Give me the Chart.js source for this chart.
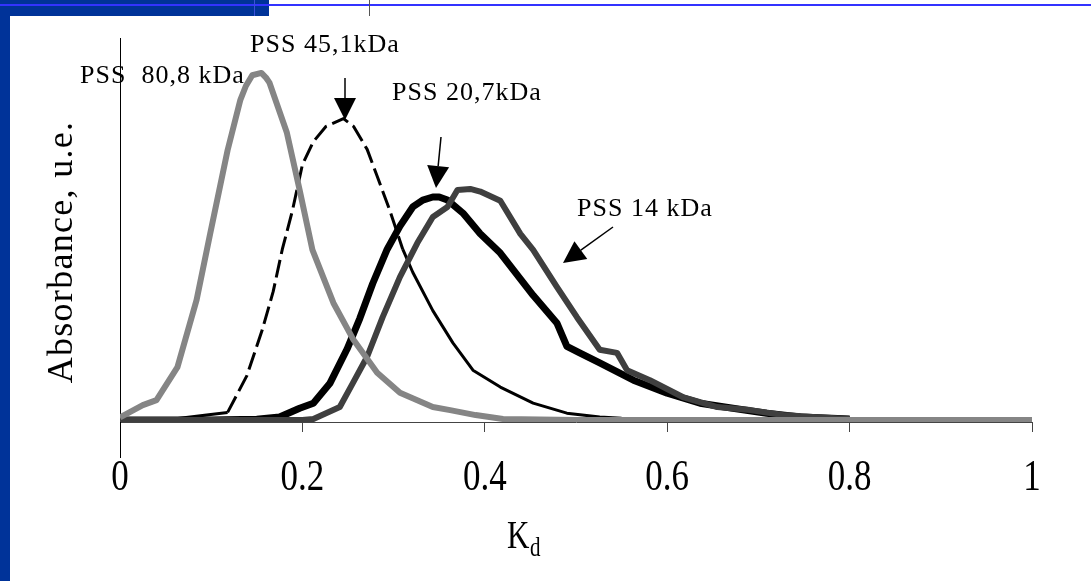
<!DOCTYPE html>
<html lang="en">
<head>
<meta charset="UTF-8">
<title>Absorbance vs Kd</title>
<script src="https://cdn.jsdelivr.net/npm/chart.js"></script>
<style>
  html, body { margin: 0; padding: 0; background: #fff; }
  #wrap { position: relative; width: 1091px; height: 581px; overflow: hidden; }
  #chart { position: absolute; left: 0; top: 0; }
  .frame { position: absolute; }
  #barLeft { left: 0; top: 0; width: 10px; height: 581px; background: #003399; }
  #barTop { left: 0; top: 0; width: 269px; height: 16px; background: #003399; }
  #lineTop { left: 0; top: 4px; width: 1091px; height: 2px; background: #3333ff; }
  #markA { left: 254px; top: 0; width: 1px; height: 16px; background: #3a50d8; }
  #markB { left: 369px; top: 0; width: 1px; height: 16px; background: #555; }
</style>
</head>
<body>
<div id="wrap">
  <canvas id="chart" width="1091" height="581"></canvas>
  <div class="frame" id="barLeft"></div>
  <div class="frame" id="barTop"></div>
  <div class="frame" id="lineTop"></div>
  <div class="frame" id="markA"></div>
  <div class="frame" id="markB"></div>
</div>
<script>
// PSS 80,8 kDa
const kdA  = [0, 0.025, 0.04, 0.063, 0.084, 0.099, 0.118, 0.132, 0.138, 0.145, 0.155, 0.16, 0.164, 0.183, 0.197, 0.211, 0.234, 0.256, 0.282, 0.307, 0.343, 0.362, 0.39, 0.42, 0.5, 0.6, 0.7, 0.8, 0.9, 1.0];
const absA = [0.012, 0.044, 0.057, 0.143, 0.318, 0.492, 0.708, 0.839, 0.875, 0.903, 0.909, 0.897, 0.883, 0.753, 0.604, 0.448, 0.31, 0.214, 0.128, 0.076, 0.039, 0.031, 0.018, 0.008, 0.005, 0.005, 0.005, 0.005, 0.005, 0.005];
// PSS 45,1 kDa
const kdB  = [0, 0.05, 0.095, 0.118, 0.139, 0.156, 0.168, 0.178, 0.189, 0.2, 0.212, 0.226, 0.245, 0.256, 0.271, 0.282, 0.296, 0.31, 0.321, 0.343, 0.365, 0.387, 0.417, 0.453, 0.49, 0.526, 0.55];
const absB = [0.005, 0.005, 0.018, 0.025, 0.12, 0.24, 0.34, 0.45, 0.55, 0.67, 0.73, 0.77, 0.79, 0.77, 0.71, 0.64, 0.55, 0.45, 0.39, 0.29, 0.206, 0.135, 0.091, 0.049, 0.023, 0.013, 0.01];
// PSS 20,7 kDa
const kdC  = [0, 0.1, 0.15, 0.175, 0.197, 0.212, 0.23, 0.249, 0.263, 0.277, 0.293, 0.307, 0.321, 0.332, 0.343, 0.35, 0.359, 0.376, 0.395, 0.417, 0.453, 0.479, 0.49, 0.504, 0.526, 0.563, 0.6, 0.636, 0.672, 0.709, 0.746, 0.78, 0.8];
const absC = [0.005, 0.005, 0.007, 0.013, 0.036, 0.049, 0.1, 0.19, 0.27, 0.36, 0.45, 0.51, 0.56, 0.578, 0.586, 0.586, 0.578, 0.544, 0.49, 0.44, 0.33, 0.258, 0.197, 0.18, 0.154, 0.109, 0.075, 0.049, 0.036, 0.023, 0.013, 0.01, 0.008];
// PSS 14 kDa
const kdD  = [0, 0.1, 0.2, 0.212, 0.241, 0.255, 0.271, 0.288, 0.307, 0.326, 0.343, 0.359, 0.37, 0.384, 0.395, 0.417, 0.439, 0.453, 0.479, 0.501, 0.526, 0.545, 0.556, 0.581, 0.617, 0.655, 0.691, 0.727, 0.76, 0.8];
const absD = [0.005, 0.005, 0.005, 0.008, 0.039, 0.1, 0.17, 0.273, 0.378, 0.466, 0.534, 0.56, 0.604, 0.607, 0.6, 0.576, 0.49, 0.448, 0.352, 0.273, 0.188, 0.18, 0.135, 0.109, 0.065, 0.039, 0.031, 0.018, 0.013, 0.008];

const xTicks = [0, 0.2, 0.4, 0.6, 0.8, 1];

// text labels with arrows (pixel layout)
const notes = [
  { text: 'PSS  80,8 kDa', x: 80,  y: 83 },
  { text: 'PSS 45,1kDa',   x: 250, y: 52 },
  { text: 'PSS 20,7kDa',   x: 392, y: 100 },
  { text: 'PSS 14 kDa',    x: 577, y: 216 }
];
const arrows = [
  { x1: 345, y1: 78,  x2: 345, y2: 120 },
  { x1: 441, y1: 137, x2: 436, y2: 188 },
  { x1: 613, y1: 227, x2: 563, y2: 263 }
];

const serif = '"Liberation Serif", "Times New Roman", serif';
const stretch = 1.28; // x-axis texts are drawn taller than wide

function toPoints(xs, ys) {
    return xs.map((x, i) => ({ x: x, y: ys[i] }));
}

function drawArrow(ctx, a) {
    const ang = Math.atan2(a.y2 - a.y1, a.x2 - a.x1);
    const len = 22, half = 11;
    const bx = a.x2 - Math.cos(ang) * len;
    const by = a.y2 - Math.sin(ang) * len;
    ctx.beginPath();
    ctx.moveTo(a.x1, a.y1);
    ctx.lineTo(bx, by);
    ctx.lineWidth = 1.5;
    ctx.strokeStyle = '#000';
    ctx.stroke();
    ctx.beginPath();
    ctx.moveTo(a.x2, a.y2);
    ctx.lineTo(bx - Math.sin(ang) * half, by + Math.cos(ang) * half);
    ctx.lineTo(bx + Math.sin(ang) * half, by - Math.cos(ang) * half);
    ctx.closePath();
    ctx.fillStyle = '#000';
    ctx.fill();
}

function tallText(ctx, text, x, y, size, align) {
    ctx.save();
    ctx.translate(x, y);
    ctx.scale(1, stretch);
    ctx.textAlign = align;
    ctx.font = size + 'px ' + serif;
    ctx.fillText(text, 0, 0);
    ctx.restore();
}

const extras = {
    id: 'extras',
    afterDraw(chart) {
        const ctx = chart.ctx;
        const xs = chart.scales.x, ys = chart.scales.y;
        const x0 = xs.getPixelForValue(0);
        ctx.save();
        // y axis continues below the x axis
        ctx.beginPath();
        ctx.moveTo(x0 + 0.5, ys.bottom);
        ctx.lineTo(x0 + 0.5, ys.bottom + 36);
        ctx.lineWidth = 1;
        ctx.strokeStyle = '#000';
        ctx.stroke();

        ctx.fillStyle = '#000';
        ctx.textBaseline = 'alphabetic';

        // x tick labels at the scale's tick positions
        xs.ticks.forEach(t => {
            tallText(ctx, String(t.value), xs.getPixelForValue(t.value), ys.bottom + 68, 35, 'center');
        });

        // x title K with subscript d
        tallText(ctx, 'K', 507, 548, 31, 'left');
        tallText(ctx, 'd', 530, 556, 21, 'left');

        ctx.textAlign = 'left';
        ctx.letterSpacing = '1px';
        ctx.font = '26px ' + serif;
        notes.forEach(n => ctx.fillText(n.text, n.x, n.y));
        ctx.letterSpacing = '0px';
        arrows.forEach(a => drawArrow(ctx, a));

        // y title
        ctx.translate(72, 252);
        ctx.rotate(-Math.PI / 2);
        ctx.textAlign = 'center';
        ctx.letterSpacing = '1.3px';
        ctx.font = '36px ' + serif;
        ctx.fillText('Absorbance, u.e.', 0, 0);
        ctx.restore();
    }
};

const ctx = document.getElementById('chart').getContext('2d');
new Chart(ctx, {
    type: 'line',
    data: {
        datasets: [
            { label: 'PSS 80,8 kDa', data: toPoints(kdA, absA), borderColor: '#858585', borderWidth: 6 },
            { label: 'PSS 14 kDa', data: toPoints(kdD, absD), borderColor: '#3f3f3f', borderWidth: 6 },
            { label: 'PSS 20,7 kDa', data: toPoints(kdC, absC), borderColor: '#000', borderWidth: 7 },
            { label: 'PSS 45,1 kDa', data: toPoints(kdB, absB), borderColor: '#000', borderWidth: 3,
              segment: { borderDash: c => (c.p0.parsed.x >= 0.1 && c.p0.parsed.x < 0.3) ? [18, 6] : [] } }
        ]
    },
    options: {
        responsive: false,
        animation: false,
        layout: { padding: { left: 10, top: 38, right: 59, bottom: 0 } },
        elements: {
            point: { radius: 0 },
            line: { tension: 0, borderJoinStyle: 'round', borderCapStyle: 'butt' }
        },
        plugins: { legend: { display: false }, tooltip: { enabled: false } },
        scales: {
            x: {
                type: 'linear',
                min: 0,
                max: 1,
                afterBuildTicks: s => { s.ticks = xTicks.map(v => ({ value: v })); },
                afterFit: s => { s.height = 159; },
                border: { display: true, color: '#444', width: 1 },
                grid: { drawOnChartArea: false, drawTicks: true, tickLength: 10, color: '#444' },
                ticks: { display: false }
            },
            y: {
                type: 'linear',
                min: 0,
                max: 1,
                afterFit: s => { s.width = 110; },
                border: { display: true, color: '#000', width: 1 },
                grid: { display: false },
                ticks: { display: false }
            }
        }
    },
    plugins: [extras]
});
</script>
</body>
</html>
